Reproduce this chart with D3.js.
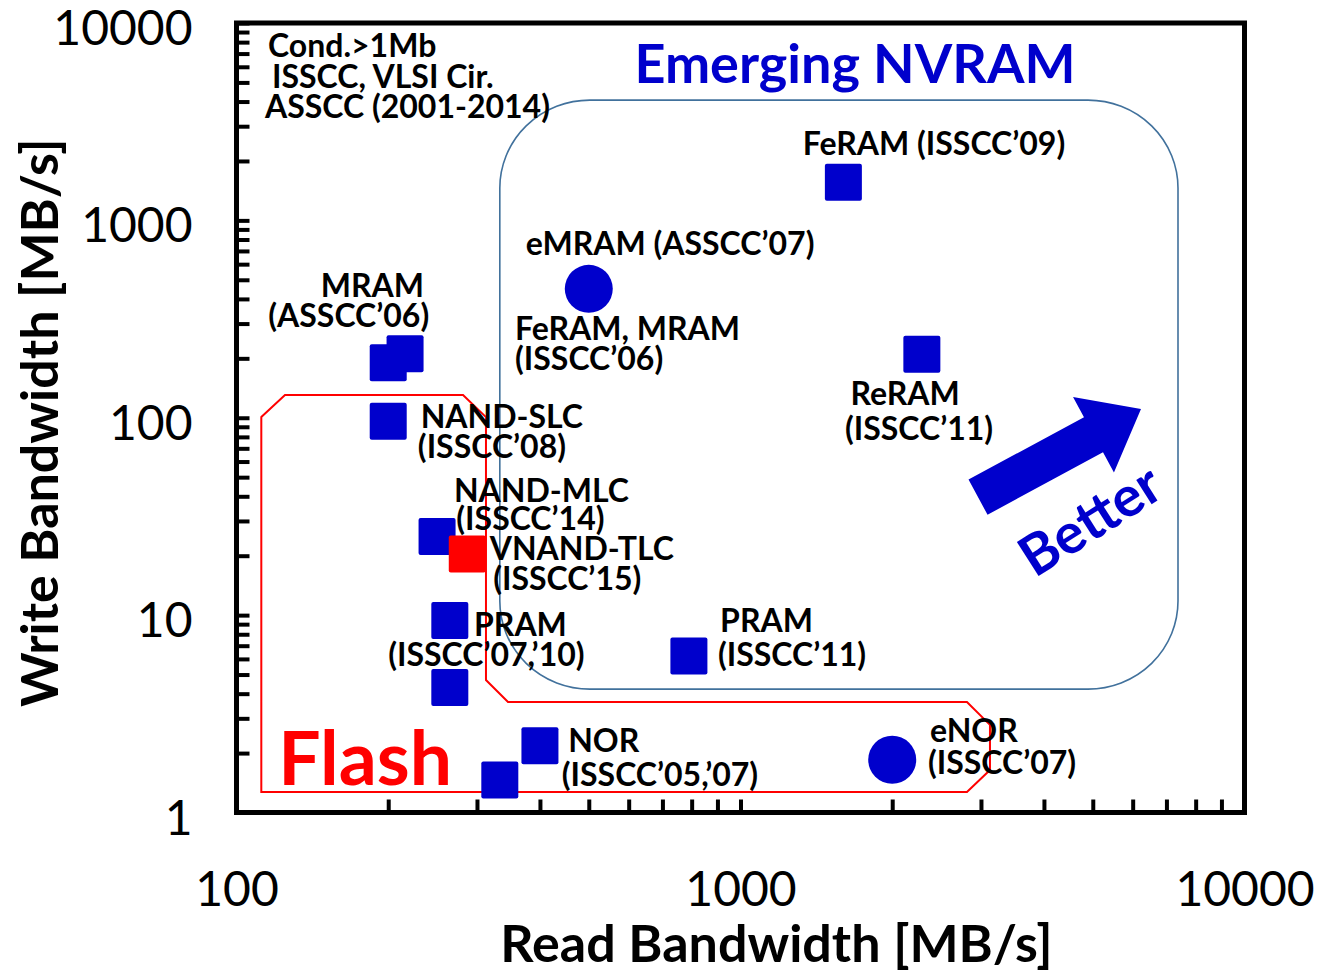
<!DOCTYPE html>
<html>
<head>
<meta charset="utf-8">
<script src="https://cdn.jsdelivr.net/npm/d3@7"></script>
<style>
  body { margin: 0; background: #fff; }
  text { font-family: Lato, "Open Sans", sans-serif; }
</style>
</head>
<body>
<svg id="chart" width="1322" height="972"></svg>
<script>
// values (MB/s)
const blueSquareRead = [200, 216, 200, 250, 265, 265, 333, 400, 790, 1600, 2290]
const blueSquareWrite = [190, 211, 96, 25, 9.4, 4.3, 1.46, 2.18, 6.2, 1560, 210]
const redSquareRead = [287]
const redSquareWrite = [20.4]
const circleRead = [500, 2000]
const circleWrite = [450, 1.85]

const xTickLabels = [100, 1000, 10000]
const yTickLabels = [1, 10, 100, 1000, 10000]

// region outlines, in data units
const flashOutline = [
    [112, 100.8], [124.8, 130.3], [281.5, 130.3], [312.6, 100.8], [312.6, 4.69],
    [345.7, 3.63], [2814, 3.63], [3126, 2.78], [3126, 1.64], [2814, 1.27], [112, 1.27]
]
const nvramBox = [[333, 4068], [7380, 4.22]]
const betterArrow = [[2960, 39.6], [6232, 110.7]]

// annotation lines: text, read, write, anchor
const labelText = [
    "Cond.>1Mb", "ISSCC, VLSI Cir.", "ASSCC (2001-2014)",
    "FeRAM (ISSCC’09)", "eMRAM (ASSCC’07)",
    "MRAM", "(ASSCC’06)",
    "FeRAM, MRAM", "(ISSCC’06)",
    "ReRAM", "(ISSCC’11)",
    "NAND-SLC", "(ISSCC’08)",
    "NAND-MLC", "(ISSCC’14)",
    "VNAND-TLC", "(ISSCC’15)",
    "PRAM", "(ISSCC’07,’10)",
    "PRAM", "(ISSCC’11)",
    "NOR", "(ISSCC’05,’07)",
    "eNOR", "(ISSCC’07)"
]
const labelRead = [
    115.5, 117.6, 113.9,
    2421, 725,
    186, 167,
    357, 357,
    2121, 2261,
    232, 229,
    270, 273,
    318, 323,
    296, 200,
    911, 902,
    455, 442,
    2377, 2355
]
const labelWrite = [
    6719, 4680, 3298,
    2142, 667,
    409, 288,
    247, 174,
    116, 77.1,
    88.7, 62.5,
    37.4, 27.0,
    19.0, 13.4,
    7.84, 5.52,
    8.21, 5.52,
    2.026, 1.362,
    2.276, 1.567
]
const labelAnchor = [
    "start", "start", "start",
    "middle", "middle",
    "middle", "middle",
    "start", "start",
    "middle", "middle",
    "start", "start",
    "start", "start",
    "start", "start",
    "start", "start",
    "start", "start",
    "start", "start",
    "start", "start"
]

const blue = "#0000cc", red = "#ff0000"
const svg = d3.select("#chart")

const x = d3.scaleLog().domain([100, 10000]).range([236.5, 1244.5])
const y = d3.scaleLog().domain([1, 10000]).range([812.5, 23])

// axes: inward ticks, labels only on decades
const xAxis = d3.axisBottom(x)
    .tickSizeInner(-13).tickSizeOuter(0).tickPadding(59)
    .tickFormat(d => xTickLabels.includes(d) ? d : "")
const yAxis = d3.axisLeft(y)
    .tickSizeInner(-13).tickSizeOuter(0).tickPadding(44)
    .tickFormat(d => yTickLabels.includes(d) ? d : "")

const gx = svg.append("g").attr("transform", `translate(0,${y.range()[0]})`).call(xAxis)
const gy = svg.append("g").attr("transform", `translate(${x.range()[0]},0)`).call(yAxis)
for (let g of [gx, gy]) {
    g.select(".domain").remove()
    g.selectAll(".tick line").attr("stroke", "#000").attr("stroke-width", 4)
    g.selectAll(".tick text").attr("fill", "#000").style("font-size", "48px")
}
gy.selectAll(".tick text").attr("dy", "0.45em")

// plot frame
svg.append("rect")
    .attr("x", x.range()[0]).attr("y", y.range()[1])
    .attr("width", x.range()[1] - x.range()[0])
    .attr("height", y.range()[0] - y.range()[1])
    .attr("fill", "none").attr("stroke", "#000").attr("stroke-width", 5)

// axis titles
svg.append("text")
    .attr("x", (x.range()[0] + x.range()[1]) / 2 + 36).attr("y", 962)
    .attr("text-anchor", "middle").attr("font-weight", "bold").style("font-size", "52px")
    .text("Read Bandwidth [MB/s]")
svg.append("text")
    .attr("transform", `translate(58,${(y.range()[0] + y.range()[1]) / 2 + 5}) rotate(-90)`)
    .attr("text-anchor", "middle").attr("font-weight", "bold").style("font-size", "52px")
    .text("Write Bandwidth [MB/s]")

// regions
svg.append("path")
    .attr("d", d3.line().x(d => x(d[0])).y(d => y(d[1])).curve(d3.curveLinearClosed)(flashOutline))
    .attr("fill", "none").attr("stroke", red).attr("stroke-width", 2)

svg.append("rect")
    .attr("x", x(nvramBox[0][0])).attr("y", y(nvramBox[0][1]))
    .attr("width", x(nvramBox[1][0]) - x(nvramBox[0][0]))
    .attr("height", y(nvramBox[1][1]) - y(nvramBox[0][1]))
    .attr("rx", 90).attr("ry", 88)
    .attr("fill", "none").attr("stroke", "#41719c").attr("stroke-width", 1.6)

svg.append("text")
    .attr("x", x(1687)).attr("y", y(4961))
    .attr("text-anchor", "middle").attr("font-weight", "bold").attr("fill", blue)
    .style("font-size", "54px")
    .text("Emerging NVRAM")

svg.append("text")
    .attr("x", x(121)).attr("y", y(1.378))
    .attr("font-weight", "bold").attr("fill", red).style("font-size", "75px")
    .text("Flash")

// "Better" arrow
const [ta, tb] = betterArrow.map(d => [x(d[0]), y(d[1])])
const len = Math.hypot(tb[0] - ta[0], tb[1] - ta[1])
const ang = Math.atan2(tb[1] - ta[1], tb[0] - ta[0]) * 180 / Math.PI
const headLen = 54, shaftHalf = 20, headHalf = 43
svg.append("path")
    .attr("transform", `translate(${ta[0]},${ta[1]}) rotate(${ang})`)
    .attr("d", `M0,${-shaftHalf} L${len - headLen},${-shaftHalf} L${len - headLen},${-headHalf} L${len},0 ` +
        `L${len - headLen},${headHalf} L${len - headLen},${shaftHalf} L0,${shaftHalf} Z`)
    .attr("fill", blue)

svg.append("text")
    .attr("transform", `translate(${x(4937)},${y(30.3)}) rotate(${ang - 4})`)
    .attr("text-anchor", "middle").attr("dy", "0.35em")
    .attr("font-weight", "bold").attr("fill", blue).style("font-size", "56px")
    .text("Better")

// markers
const side = 37
const squares = blueSquareRead.map((r, i) => ({ r, w: blueSquareWrite[i], c: blue }))
    .concat(redSquareRead.map((r, i) => ({ r, w: redSquareWrite[i], c: red })))
svg.append("g").selectAll("rect")
    .data(squares)
    .join("rect")
    .attr("x", d => x(d.r) - side / 2)
    .attr("y", d => y(d.w) - side / 2)
    .attr("width", side).attr("height", side).attr("rx", 2)
    .attr("fill", d => d.c)

svg.append("g").selectAll("circle")
    .data(circleRead.map((r, i) => ({ r, w: circleWrite[i] })))
    .join("circle")
    .attr("cx", d => x(d.r)).attr("cy", d => y(d.w)).attr("r", 24)
    .attr("fill", blue)

// annotation text
svg.append("g").selectAll("text")
    .data(labelText.map((t, i) => ({ t, r: labelRead[i], w: labelWrite[i], a: labelAnchor[i] })))
    .join("text")
    .attr("x", d => x(d.r)).attr("y", d => y(d.w))
    .attr("text-anchor", d => d.a)
    .attr("font-weight", "bold").style("font-size", "32px")
    .text(d => d.t)
</script>
</body>
</html>
